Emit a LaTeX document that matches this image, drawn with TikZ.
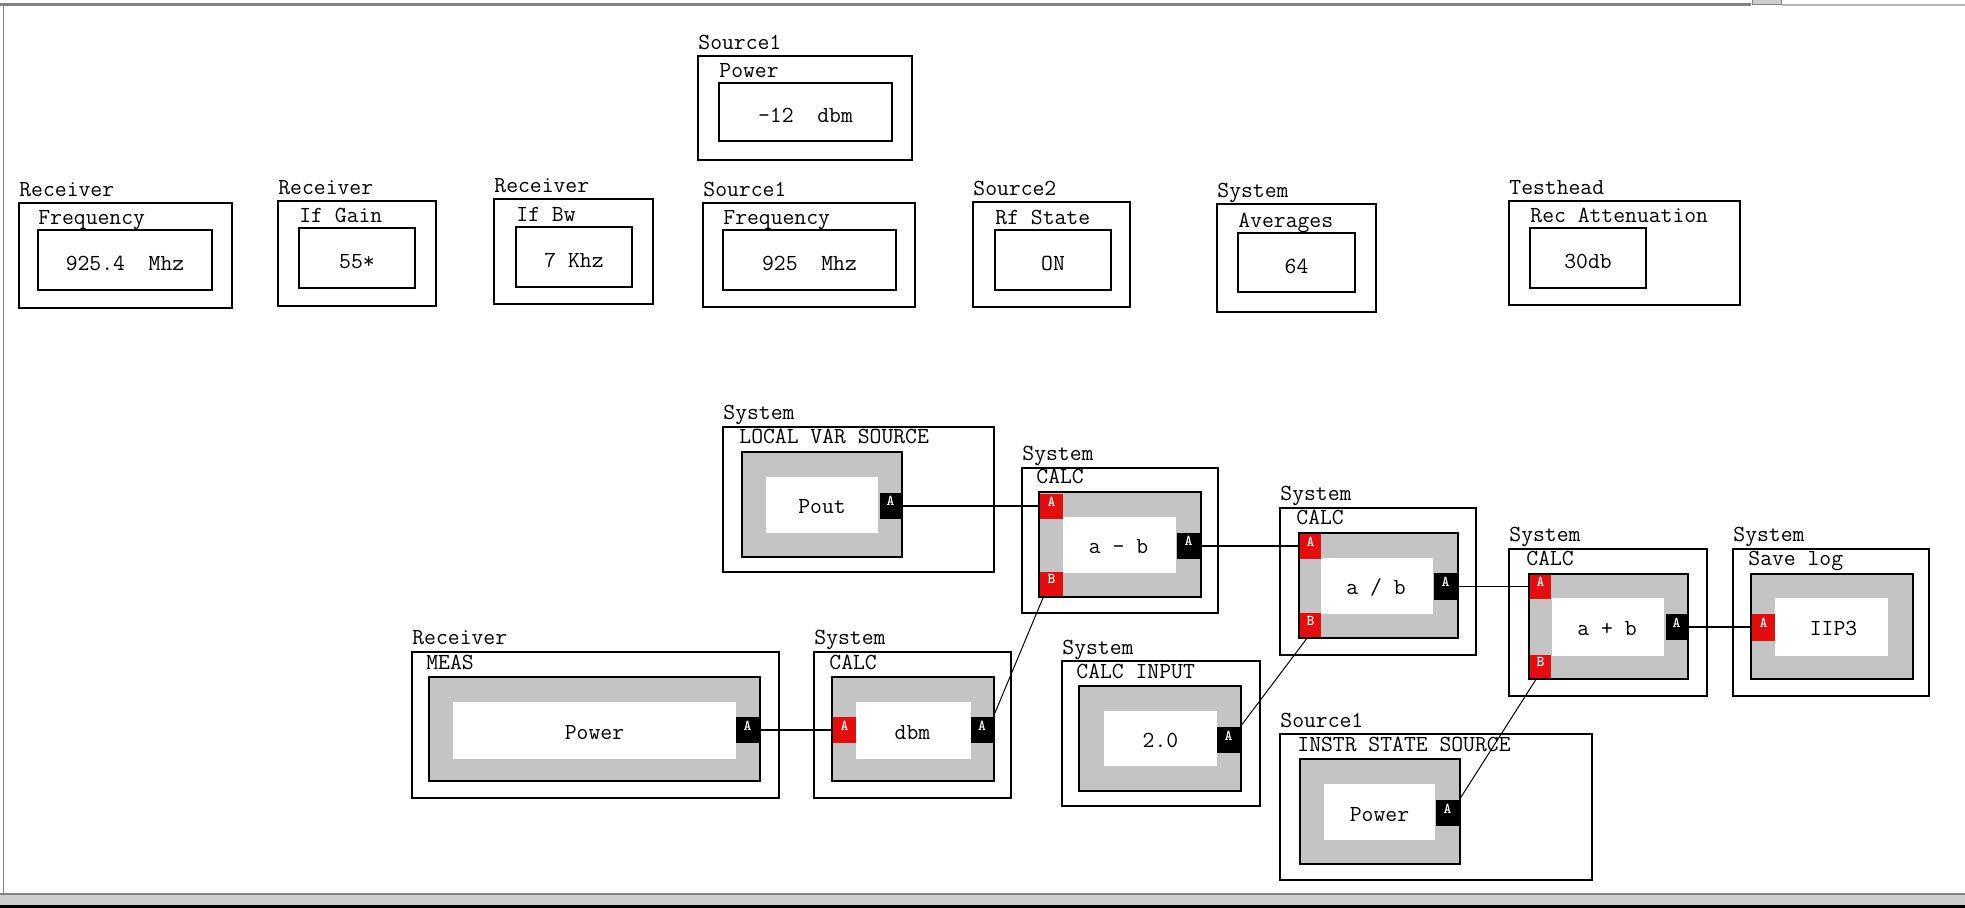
\documentclass[tikz,border=0pt]{standalone}
\usepackage{fontspec}
\usetikzlibrary{fit,calc}
\newcommand{\txtfnt}{\ttfamily\fontsize{11.5}{13}\selectfont}
\newcommand{\portfnt}{\ttfamily\bfseries\fontsize{7.5}{8}\selectfont}
\definecolor{blockgray}{RGB}{196,196,196}
\definecolor{portred}{RGB}{228,12,12}
\definecolor{framegray}{RGB}{130,130,130}
\definecolor{barfill}{RGB}{205,205,205}
\tikzset{
  outerbox/.style={draw=black, line width=1pt, inner sep=0pt},
  valbox/.style={draw=black, line width=1pt, fill=white, inner sep=0pt},
  graybox/.style={draw=black, line width=1pt, fill=blockgray, inner sep=0pt},
  whitebox/.style={fill=white, inner sep=0pt},
  inport/.style={fill=portred, inner sep=0pt, text=white, font=\portfnt},
  outport/.style={fill=black, inner sep=0pt, text=white, font=\portfnt},
  lbl/.style={inner sep=0pt, anchor=base west, font=\txtfnt},
  val/.style={inner sep=0pt, anchor=base, font=\txtfnt},
  wire/.style={line width=0.8pt, draw=black},
  diag/.style={line width=0.5pt, draw=black},
}
\newcommand{\parblock}[8]{%
  \node[outerbox, fit={#2 #3}] (#1) {};
  \node[valbox, fit={#4 #5}] (#1in) {};
  \node[lbl] (#1grp) at ($(#1.north west)+(1,-5)$) {#6};
  \node[lbl] (#1par) at ($(#1in.north west)+(1,-4)$) {#7};
  \node[val] (#1val) at ($(#1in.center)+(0,11)$) {#8};
}
\newcommand{\opframe}[7]{%
  \node[outerbox, fit={#2 #3}] (#1) {};
  \node[graybox, fit={#4 #5}] (#1g) {};
  \node[lbl] (#1grp) at ($(#1.north west)+(1,-6)$) {#6};
  \node[lbl] (#1par) at ($(#1g.north west)+(-2,-7)$) {#7};
}
\begin{document}
\begin{tikzpicture}[x=0.5pt,y=-0.5pt]
\useasboundingbox (0,0) rectangle (1965,908);
\fill[white] (0,0) rectangle (1965,908);
% window frame
\draw[framegray, line width=1.5pt] (0,4.5) -- (1751,4.5);
\draw[framegray, fill=barfill, line width=0.5pt] (1752,-1) rectangle (1781,5);
\draw[framegray!60, line width=0.6pt] (1782,5) -- (1965,5);
\draw[framegray, line width=0.8pt] (3.5,5) -- (3.5,894);
\fill[barfill] (0,894) rectangle (1965,905);
\draw[framegray, line width=0.6pt] (0,894) -- (1965,894);
\fill[black] (0,905) rectangle (1965,908);

% parameter blocks
\parblock{rf}{(19,203)}{(232,308)}{(38,230)}{(212,290)}{Receiver}{Frequency}{925.4~~Mhz}
\parblock{ig}{(278,201)}{(436,306)}{(299,228)}{(415,288)}{Receiver}{If Gain}{55*}
\parblock{ib}{(494,199)}{(653,304)}{(516,227)}{(632,287)}{Receiver}{If Bw}{7 Khz}
\parblock{sp}{(698,56)}{(912,160)}{(719,83)}{(892,141)}{Source1}{Power}{-12~~dbm}
\parblock{sf}{(703,203)}{(915,307)}{(723,230)}{(896,290)}{Source1}{Frequency}{925~~Mhz}
\parblock{rs}{(973,202)}{(1130,307)}{(995,230)}{(1111,290)}{Source2}{Rf State}{ON}
\parblock{av}{(1217,204)}{(1376,312)}{(1238,233)}{(1355,292)}{System}{Averages}{64}
\parblock{ra}{(1509,201)}{(1740,305)}{(1530,228)}{(1646,288)}{Testhead}{Rec Attenuation}{30db}

% LOCAL VAR SOURCE
\opframe{lv}{(723,427)}{(994,572)}{(742,452)}{(902,557)}{System}{LOCAL VAR SOURCE}
\node[whitebox, fit={(766,477) (878,533)}] (lvw) {};
\node[val] (lvval) at ($(lvw.center)+(0,9)$) {Pout};
\node[outport, fit={(880,493) (901,519)}] (lvO) {A};

% MEAS
\opframe{meas}{(412,652)}{(779,798)}{(429,677)}{(760,781)}{Receiver}{MEAS}
\node[whitebox, fit={(453,702) (736,759)}] (measw) {};
\node[val] (measval) at ($(measw.center)+(0,9)$) {Power};
\node[outport, fit={(736,717) (759,743)}] (measO) {A};

% CALC dbm
\opframe{dbm}{(814,652)}{(1011,798)}{(832,677)}{(994,781)}{System}{CALC}
\node[whitebox, fit={(856,702) (971,759)}] (dbmw) {};
\node[val] (dbmval) at ($(dbmw.center)+(-1,9)$) {dbm};
\node[inport, fit={(833,717) (856,743)}] (dbmA) {A};
\node[outport, fit={(971,717) (993,743)}] (dbmO) {A};

% CALC a - b
\opframe{amb}{(1022,468)}{(1218,613)}{(1039,492)}{(1201,597)}{System}{CALC}
\node[whitebox, fit={(1063,517) (1176,573)}] (ambw) {};
\node[val] (ambval) at ($(ambw.center)+(-1,9)$) {a - b};
\node[inport, fit={(1040,494) (1063,519)}] (ambA) {A};
\node[inport, fit={(1040,572) (1063,596)}] (ambB) {B};
\node[outport, fit={(1177,533) (1200,559)}] (ambO) {A};

% CALC a / b
\opframe{adb}{(1280,508)}{(1476,655)}{(1299,533)}{(1458,638)}{System}{CALC}
\node[whitebox, fit={(1321,558) (1433,614)}] (adbw) {};
\node[val] (adbval) at ($(adbw.center)+(-1,9)$) {a / b};
\node[inport, fit={(1300,534) (1321,559)}] (adbA) {A};
\node[inport, fit={(1300,613) (1321,637)}] (adbB) {B};
\node[outport, fit={(1434,573) (1457,600)}] (adbO) {A};

% CALC a + b
\opframe{apb}{(1509,549)}{(1707,696)}{(1529,574)}{(1688,679)}{System}{CALC}
\node[whitebox, fit={(1552,598) (1664,656)}] (apbw) {};
\node[val] (apbval) at ($(apbw.center)+(-1,9)$) {a + b};
\node[inport, fit={(1530,575) (1551,599)}] (apbA) {A};
\node[inport, fit={(1530,655) (1551,678)}] (apbB) {B};
\node[outport, fit={(1666,614) (1687,640)}] (apbO) {A};

% Save log
\opframe{save}{(1733,549)}{(1929,696)}{(1751,574)}{(1913,679)}{System}{Save log}
\node[whitebox, fit={(1775,598) (1888,656)}] (savew) {};
\node[val] (saveval) at ($(savew.center)+(2,9)$) {IIP3};
\node[inport, fit={(1752,614) (1775,641)}] (saveA) {A};

% CALC INPUT
\opframe{cin}{(1062,661)}{(1260,806)}{(1079,686)}{(1241,791)}{System}{CALC INPUT}
\node[whitebox, fit={(1104,711) (1217,766)}] (cinw) {};
\node[val] (cinval) at ($(cinw.center)+(0,9)$) {2.0};
\node[outport, fit={(1217,727) (1240,753)}] (cinO) {A};

% INSTR STATE SOURCE
\opframe{instr}{(1280,734)}{(1592,880)}{(1300,759)}{(1460,864)}{Source1}{INSTR STATE SOURCE}
\node[whitebox, fit={(1324,784) (1435,840)}] (instrw) {};
\node[val] (instrval) at ($(instrw.center)+(0,9)$) {Power};
\node[outport, fit={(1436,800) (1459,826)}] (instrO) {A};

% connectors
\draw[wire] (lvO.east) -- (lvO.east -| ambA.west);
\draw[wire] (ambO.east) -- (ambO.east -| adbA.west);
\draw[wire] (adbO.east) -- (adbO.east -| apbA.west);
\draw[wire] (apbO.east) -- (apbO.east -| saveA.west);
\draw[wire] (measO.east) -- (measO.east -| dbmA.west);
\draw[diag] (dbmO.north east) -- ($(ambB.south west)+(4,0)$);
\draw[diag] (cinO.north east) -- ($(adbB.south west)+(8,0)$);
\draw[diag] (instrO.north east) -- ($(apbB.south west)+(7,0)$);
\end{tikzpicture}
\end{document}
